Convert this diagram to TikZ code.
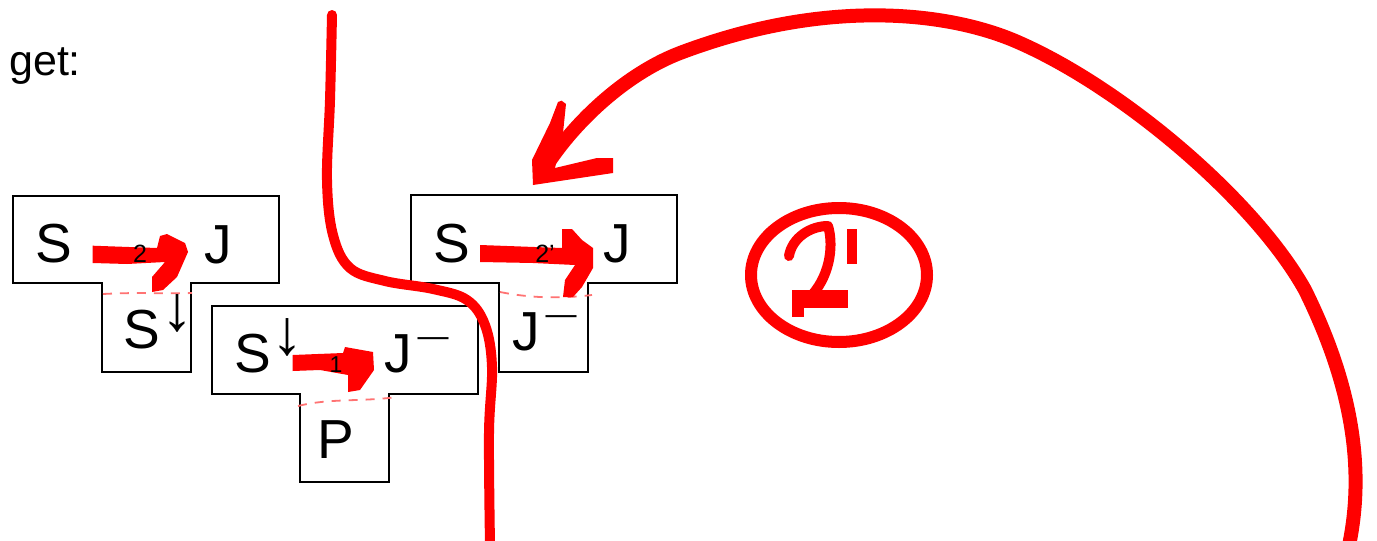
\documentclass[tikz,border=0pt]{standalone}
\usepackage{fontspec}
\setmainfont{Liberation Sans}
\newcommand{\dnarrow}{\hspace{1pt}\raisebox{17.5pt}{\fontsize{64}{64}\selectfont ↓}}
\newcommand{\supbar}{\hspace{6pt}\raisebox{26pt}{\fontsize{31}{31}\selectfont —}}
\begin{document}
\begin{tikzpicture}[x=1pt,y=-1pt,
  tbox/.style={draw=black,line width=1.4pt,fill=white,line join=miter},
  big/.style={font=\fontsize{55}{55}\selectfont,inner sep=0pt,anchor=base},
  bigw/.style={font=\fontsize{55}{55}\selectfont,inner sep=0pt,anchor=base west},
  small/.style={font=\fontsize{25}{25}\selectfont,inner sep=0pt,anchor=base},
  ink/.style={fill=red,draw=none},
  pen/.style={draw=red,line cap=round,line join=round},
  seam/.style={draw=red!55,line width=1.8pt,dash pattern=on 9pt off 8pt},
]
\useasboundingbox (0,0) rectangle (1377,541);
\fill[white] (0,0) rectangle (1377,541);

\node[font=\fontsize{43}{43}\selectfont,inner sep=0pt,anchor=base west] (get) at (9,75) {get:};

% T-shaped boxes
\draw[tbox] (13,196) -- (279,196) -- (279,283) -- (191,283) -- (191,372) -- (102,372) -- (102,283) -- (13,283) -- cycle;
\draw[tbox] (212,306) -- (478,306) -- (478,394) -- (389,394) -- (389,482) -- (300,482) -- (300,394) -- (212,394) -- cycle;
\draw[tbox] (411,195) -- (677,195) -- (677,283) -- (588,283) -- (588,372) -- (499,372) -- (499,283) -- (411,283) -- cycle;

% dashed seams
\draw[seam] (103,294) .. controls (140,292) and (160,294) .. (192,293);
\draw[seam] (298,406) .. controls (330,398) and (360,402) .. (397,397);
\draw[seam] (500,292) .. controls (520,296) and (550,300) .. (592,295);

% red arrows inside boxes
\fill[ink] (92.7,245.7) -- (157,248) -- (160,236) -- (167,234) -- (185,243) -- (188,252) -- (177,277) -- (163,290) -- (152,292) -- (152,277) -- (165,262) -- (127,264) -- (92.7,263) -- cycle;
\fill[ink] (292.7,355) -- (343,353) -- (345,347) -- (373,352) -- (374,370) -- (360,390) -- (348,392) -- (348,375) -- (320,370) -- (292.7,371) -- cycle;
\fill[ink] (480,245) -- (562,248) -- (562,229) -- (572,229) -- (582,240) -- (593,248) -- (593,268) -- (582,287) -- (573,297) -- (563,297) -- (565,280) -- (575,265) -- (533,263) -- (480,262) -- cycle;

% small labels
\node[small] (l2) at (140,262) {2};
\node[small,font=\fontsize{23}{23}\selectfont] (l1) at (336,372) {1};
\node[small] (l2p) at (545,262) {2’};

% box texts
\node[big] (s1) at (54,262) {S};
\node[big] (j1) at (218,263) {J};
\node[bigw] (sd1) at (123.7,348) {S\dnarrow};

\node[bigw] (sd2) at (234,372) {S\dnarrow};
\node[bigw] (jm2) at (384,372) {J\supbar};
\node[big] (p2) at (336,458) {P};

\node[big] (s3) at (452,262) {S};
\node[big] (j3) at (617,262) {J};
\node[bigw] (jm3) at (512,350) {J\supbar};

% big red strokes
\draw[pen,line width=10pt] plot[smooth,tension=0.6] coordinates {(332,15) (330,100) (327,180) (333,235) (350,268) (385,281) (433,289) (467,300) (485,325) (492,367) (489,433) (490,545)};

\draw[pen,line width=14pt] (1348,550) .. controls (1366,470) and (1352,385) .. (1305,290)
  .. controls (1255,200) and (1120,85) .. (1013,40)
  .. controls (940,10) and (820,0) .. (680,53)
  .. controls (625,74) and (570,125) .. (540,176);
\fill[ink] (561.7,100.7) -- (566,104) -- (563,133) -- (555,168) -- (597,158) -- (613,158) -- (613,173) -- (533,185) -- (532,160) -- (550,123) -- (558,102) -- cycle;

% circled 2'
\draw[pen,line width=12pt] (839,275) ellipse [x radius=88, y radius=67];
\draw[pen,line width=10pt] (789,256) .. controls (792,238) and (810,226) .. (828,226) .. controls (833,242) and (832,272) .. (812,295);
\draw[pen,line width=18pt,line cap=butt] (800,299) -- (848,299);
\fill[ink] (792,290) rectangle (804,317);
\draw[pen,line width=10pt,line cap=butt] (852,229) -- (852,264);
\end{tikzpicture}
\end{document}
